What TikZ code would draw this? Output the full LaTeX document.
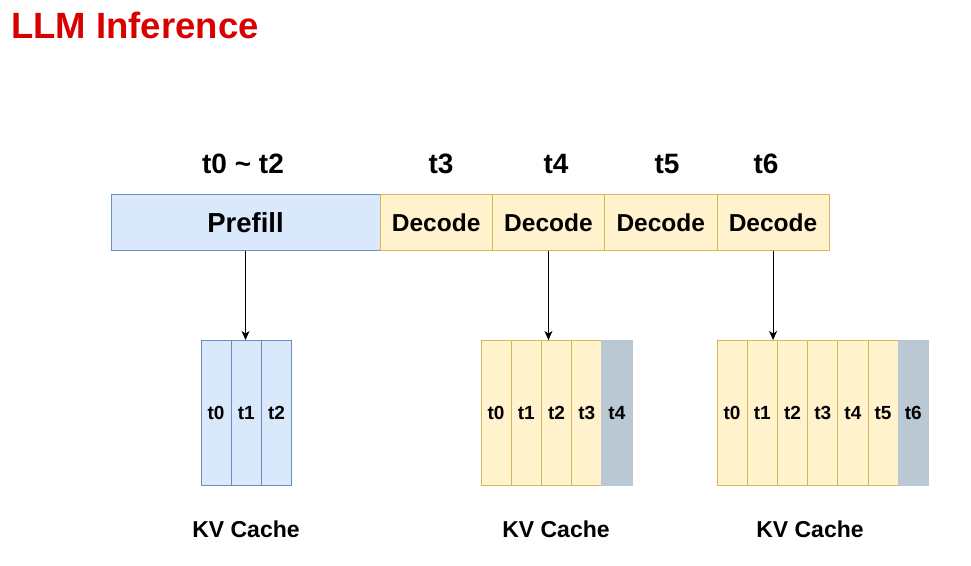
\documentclass[tikz,border=0pt]{standalone}
\usepackage{fontspec}
\setmainfont{Liberation Sans}
\usetikzlibrary{positioning,arrows.meta}

\definecolor{titlered}{HTML}{D90000}
\definecolor{blueFill}{HTML}{DAE8FC}
\definecolor{blueLine}{HTML}{6C8EBF}
\definecolor{yellowFill}{HTML}{FFF2CC}
\definecolor{yellowLine}{HTML}{D6B656}
\definecolor{newFill}{HTML}{BAC8D3}

\begin{document}
\begin{tikzpicture}[x=1pt, y=-1pt]
    \useasboundingbox (0,0) rectangle (971,565);

    % Styles
    \tikzset{
      stage/.style = {draw, line width=0.8pt, outer sep=0pt, minimum height=56pt,
                      font=\bfseries\fontsize{24.5}{24.5}\selectfont},
      prefillbox/.style = {stage, fill=blueFill, draw=blueLine, minimum width=269pt,
                           font=\bfseries\fontsize{27.5}{27.5}\selectfont},
      decodebox/.style = {stage, fill=yellowFill, draw=yellowLine, minimum width=112.3pt},
      tlabel/.style = {font=\bfseries\fontsize{28}{28}\selectfont},
      cell/.style = {draw, line width=0.7pt, outer sep=0pt, anchor=north west,
                     minimum width=30.2pt, minimum height=145pt, inner sep=0pt,
                     text height=13.5pt, text depth=0pt,
                     font=\bfseries\fontsize{19}{19}\selectfont},
      oldblue/.style = {cell, fill=blueFill, draw=blueLine},
      oldyellow/.style = {cell, fill=yellowFill, draw=yellowLine},
      newest/.style = {cell, fill=newFill, draw=newFill},
      kvlabel/.style = {font=\bfseries\fontsize{23}{23}\selectfont},
      flow/.style = {line width=1pt, -{Stealth[length=9pt, width=8pt, inset=2.5pt]}}
    }

    % Title
    \node[anchor=west, text=titlered, inner sep=0pt,
          font=\bfseries\fontsize{36.5}{36.5}\selectfont] (title) at (11,25) {LLM Inference};

    % Stages
    \node[prefillbox] (prefill) at (245.5,222.5) {Prefill};
    \node[decodebox, right=0pt of prefill] (dec1) {Decode};
    \node[decodebox, right=0pt of dec1] (dec2) {Decode};
    \node[decodebox, right=0pt of dec2] (dec3) {Decode};
    \node[decodebox, right=0pt of dec3] (dec4) {Decode};

    % Time steps
    \node[tlabel] (lab02) at (243,164) {t0 \textasciitilde\ t2};
    \node[tlabel] (lab3) at (441,164) {t3};
    \node[tlabel] (lab4) at (556,164) {t4};
    \node[tlabel] (lab5) at (667,164) {t5};
    \node[tlabel] (lab6) at (766,164) {t6};

    % KV caches
    \foreach \i in {0,...,2}
      \node[oldblue] (ca\i) at (201+30.2*\i,340) {t\i};
    \foreach \i in {0,...,3}
      \node[oldyellow] (cb\i) at (481+30.2*\i,340) {t\i};
    \node[newest] (cb4) at (481+30.2*4,340) {t4};
    \foreach \i in {0,...,5}
      \node[oldyellow] (cc\i) at (717+30.2*\i,340) {t\i};
    \node[newest] (cc6) at (717+30.2*6,340) {t6};

    \node[kvlabel] (kv1) at (246,529) {KV Cache};
    \node[kvlabel] (kv2) at (556,529) {KV Cache};
    \node[kvlabel] (kv3) at (810,529) {KV Cache};

    % Arrows
    \draw[flow] (prefill.south) -- (prefill.south |- ca1.north);
    \draw[flow] (dec2.south) -- (dec2.south |- cb2.north);
    \draw[flow] (dec4.south) -- (dec4.south |- cc1.north);

\end{tikzpicture}
\end{document}
